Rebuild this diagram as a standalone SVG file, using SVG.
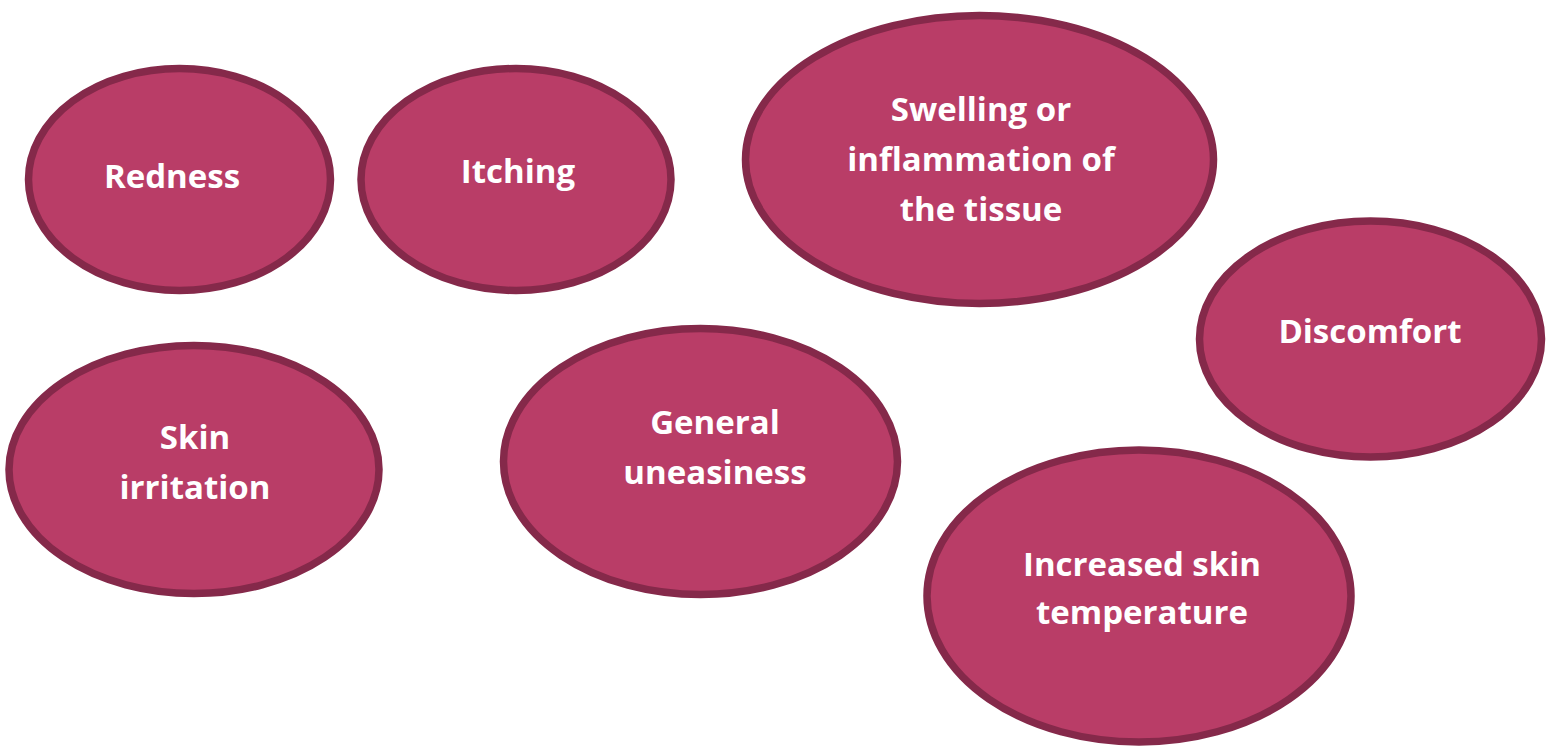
<svg xmlns="http://www.w3.org/2000/svg" width="1551" height="746" viewBox="0 0 1551 746">
  <style>
    .bubble { fill: #B93D67; stroke: #85294A; stroke-width: 7.5; }
    .label { fill: #FFFFFF; font-family: "Open Sans", "DejaVu Sans", sans-serif; font-weight: bold; font-size: 33px; text-anchor: middle; }
  </style>
  <rect width="1551" height="746" fill="#FFFFFF"/>
  <g id="connectors"></g>
  <g id="redness">
    <ellipse class="bubble" cx="179.5" cy="179.5" rx="151" ry="111"/>
    <text class="label" x="172" y="188">Redness</text>
  </g>
  <g id="itching">
    <ellipse class="bubble" cx="516" cy="179.5" rx="155" ry="111"/>
    <text class="label" x="518" y="183">Itching</text>
  </g>
  <g id="swelling">
    <ellipse class="bubble" cx="979.5" cy="159.5" rx="234" ry="144"/>
    <text class="label" x="981" y="121">Swelling or</text>
    <text class="label" x="981" y="171">inflammation of</text>
    <text class="label" x="981" y="221">the tissue</text>
  </g>
  <g id="discomfort">
    <ellipse class="bubble" cx="1370.5" cy="339" rx="171" ry="118"/>
    <text class="label" x="1370" y="343">Discomfort</text>
  </g>
  <g id="skin-irritation">
    <ellipse class="bubble" cx="194" cy="469.5" rx="185" ry="124"/>
    <text class="label" x="195" y="449">Skin</text>
    <text class="label" x="195" y="499">irritation</text>
  </g>
  <g id="general-uneasiness">
    <ellipse class="bubble" cx="700.5" cy="461.5" rx="197" ry="133"/>
    <text class="label" x="715" y="434">General</text>
    <text class="label" x="715" y="484">uneasiness</text>
  </g>
  <g id="skin-temperature">
    <ellipse class="bubble" cx="1139" cy="596" rx="212" ry="146"/>
    <text class="label" x="1142" y="576">Increased skin</text>
    <text class="label" x="1142" y="624">temperature</text>
  </g>
</svg>
